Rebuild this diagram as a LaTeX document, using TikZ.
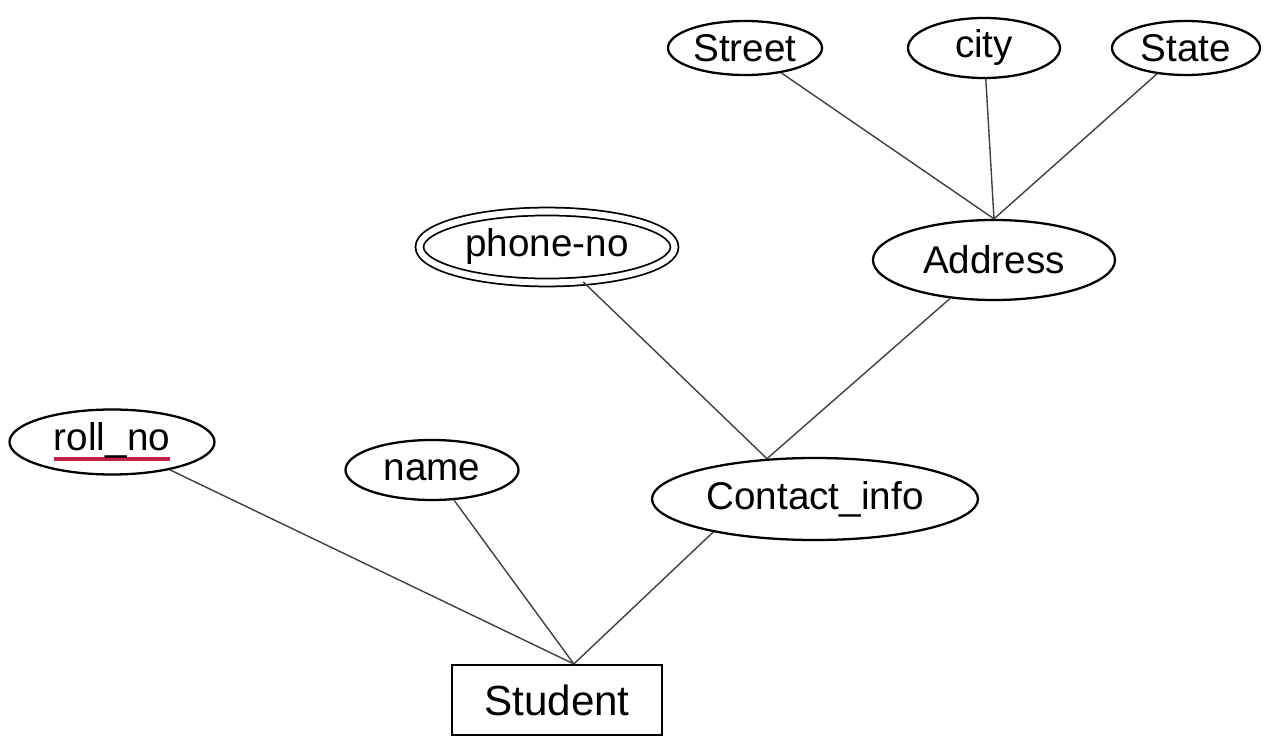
\documentclass[tikz,border=0pt]{standalone}
\usepackage{fontspec}
\setmainfont{Liberation Sans}
\usepackage{tikz}
\usetikzlibrary{positioning,shapes.geometric}
\definecolor{keyred}{RGB}{196,32,72}
\newsavebox{\keybox}
\newcommand{\keyattr}[1]{\sbox{\keybox}{#1}%
  \rlap{\textcolor{keyred}{\rule[-6pt]{\wd\keybox}{2.2pt}}}\usebox{\keybox}}

\begin{document}
\begin{tikzpicture}[on grid,
  attr/.style={draw,ellipse,line width=1.3pt,inner sep=0pt,
               font=\fontsize{22}{26}\selectfont},
  multi/.style={attr,double,double distance=3.5pt,line width=1pt},
  entity/.style={draw,rectangle,line width=1.2pt,inner sep=0pt,
                 minimum width=4.2cm,minimum height=1.4cm,
                 font=\fontsize{24}{28}\selectfont},
  link/.style={line width=0.8pt,black!75}]
  \useasboundingbox (0,0) rectangle (25.62,14.88);

  % entity and its attributes
  \node[entity] (student) at (11.14,0.88) {Student};
  \node[attr,minimum width=4.1cm,minimum height=1.3cm,
        above left=5.16cm and 8.9cm of student] (roll) {\keyattr{roll\_no}};
  \node[attr,minimum width=3.46cm,minimum height=1.2cm,
        above left=4.6cm and 2.5cm of student] (name) {name};
  \node[attr,minimum width=6.52cm,minimum height=1.64cm,
        above right=4.02cm and 5.16cm of student] (contact) {Contact\_info};

  % composite parts
  \node[multi,minimum width=5.1cm,minimum height=1.42cm,
        above left=5.04cm and 5.36cm of contact] (phone) {phone-no};
  \node[attr,minimum width=4.84cm,minimum height=1.6cm,
        above right=4.78cm and 3.58cm of contact] (address) {Address};
  \node[attr,minimum width=3.04cm,minimum height=1.2cm,
        above left=4.24cm and 0.2cm of address] (city) {city};
  \node[attr,minimum width=3.08cm,minimum height=1.08cm,
        left=4.78cm of city] (street) {Street};
  \node[attr,minimum width=2.96cm,minimum height=1.08cm,
        right=4.04cm of city] (state) {State};

  \draw[link] (street) -- (address.north);
  \draw[link] (city) -- (address.north);
  \draw[link] (state) -- (address.north);
  \draw[link] (phone) -- (contact.140);
  \draw[link] (address) -- (contact.140);
  \draw[link] (roll) -- (student.65);
  \draw[link] (name) -- (student.65);
  \draw[link] (contact.198) -- (student.65);
\end{tikzpicture}
\end{document}
